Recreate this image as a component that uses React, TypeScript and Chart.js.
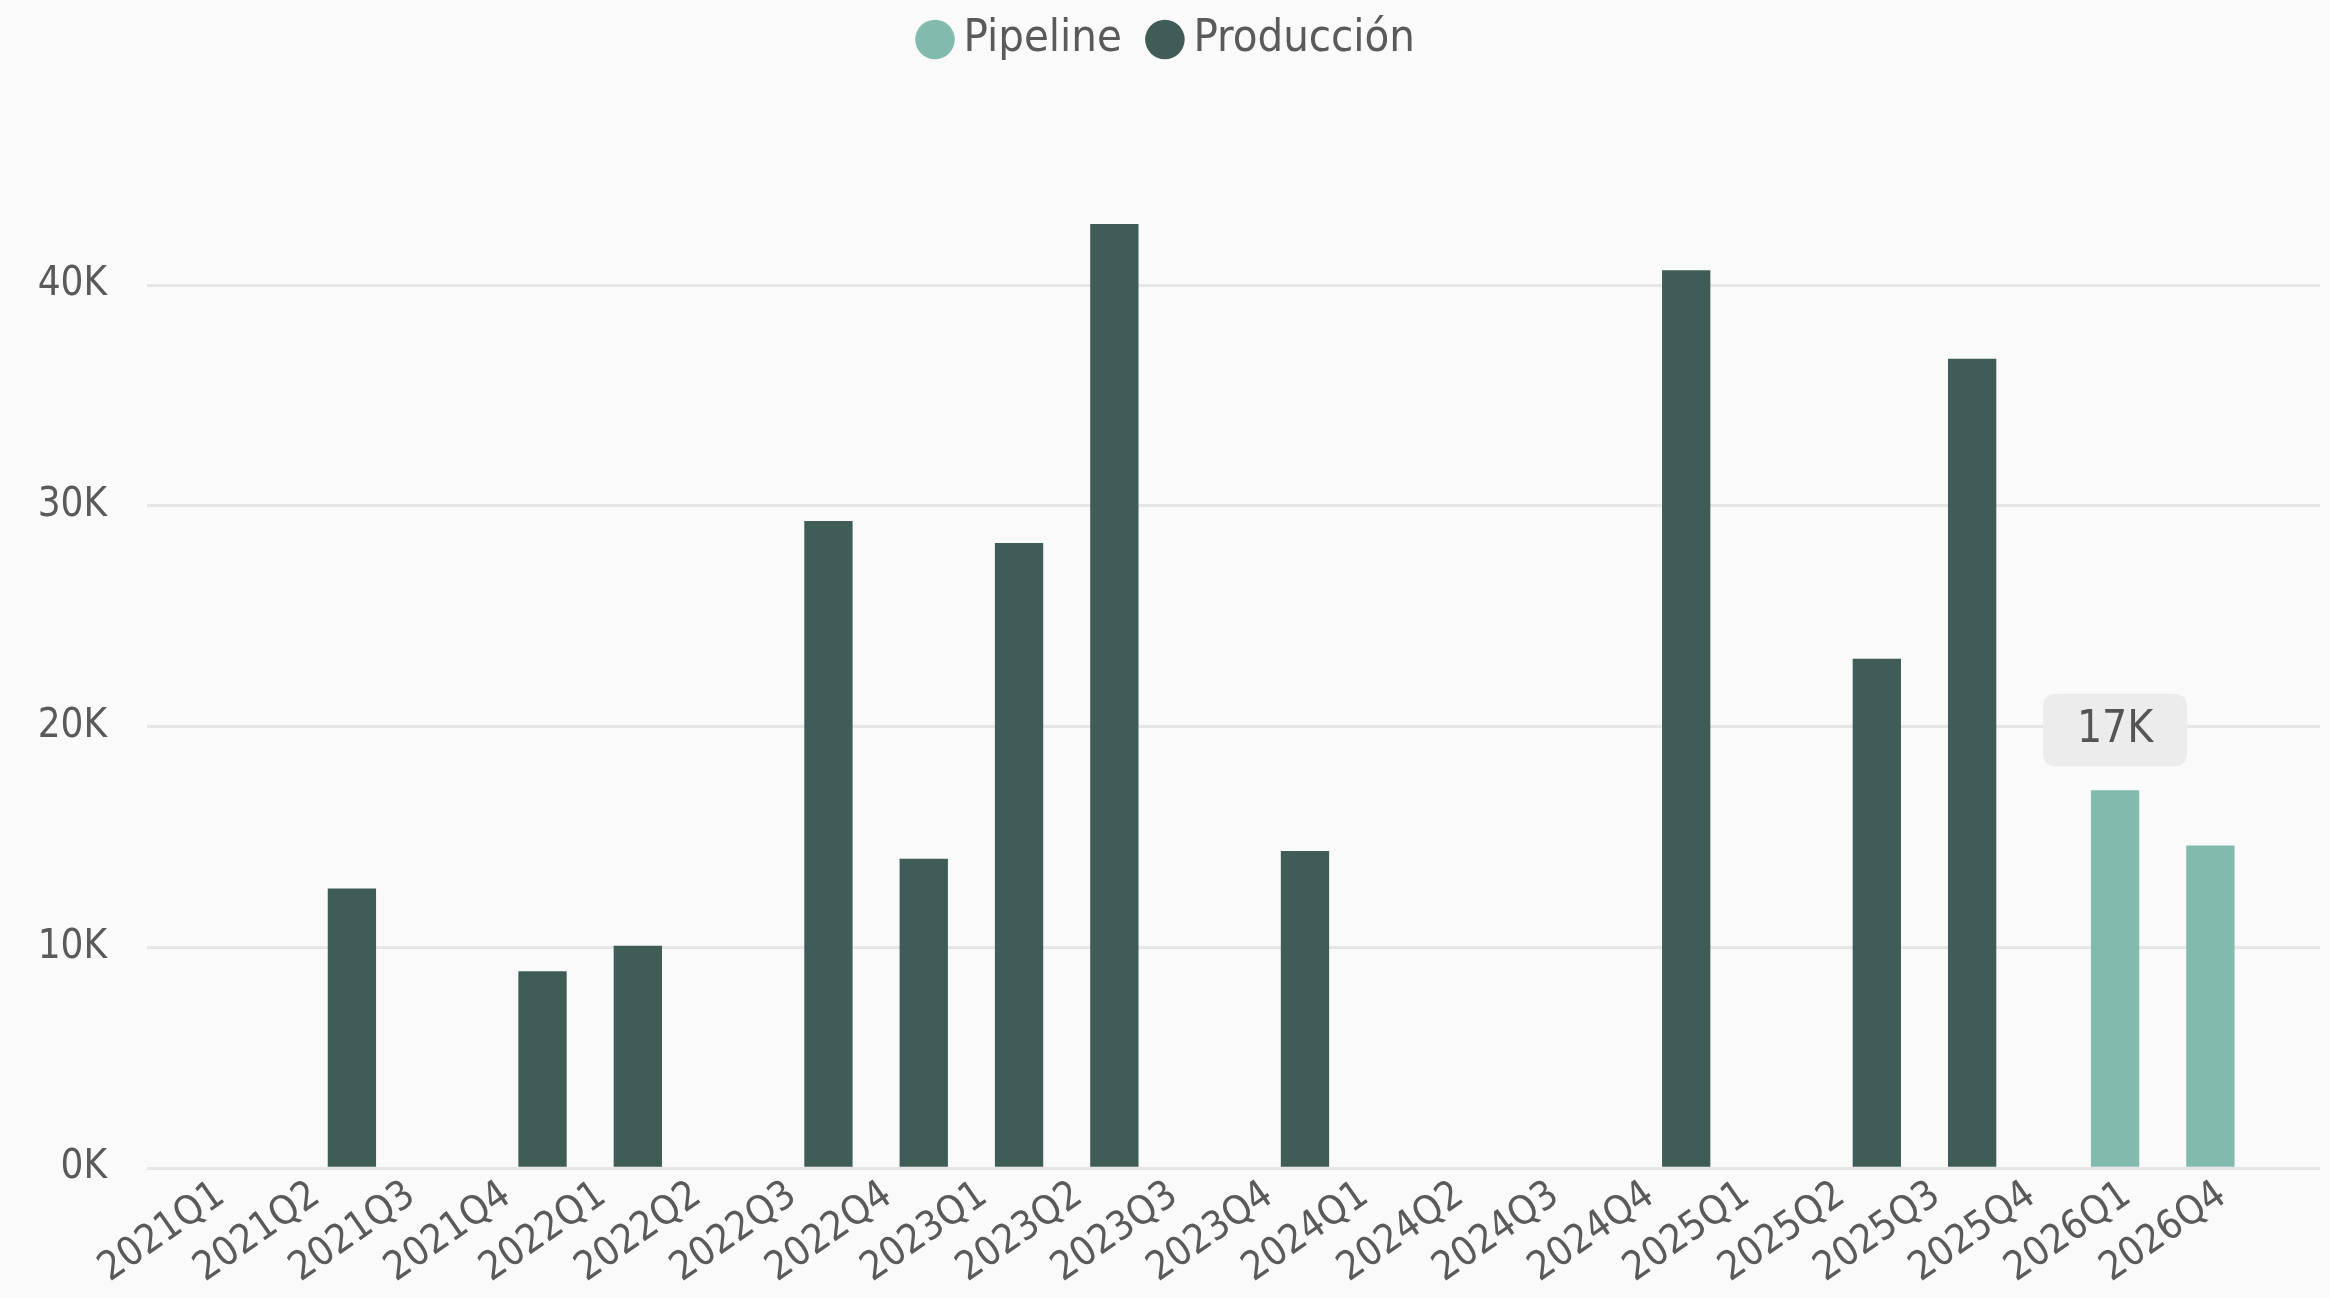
import { useEffect, useRef } from 'react';
import { Chart, registerables } from 'chart.js';

Chart.register(...registerables);

const labels = [
  '2021Q1', '2021Q2', '2021Q3', '2021Q4',
  '2022Q1', '2022Q2', '2022Q3', '2022Q4',
  '2023Q1', '2023Q2', '2023Q3', '2023Q4',
  '2024Q1', '2024Q2', '2024Q3', '2024Q4',
  '2025Q1', '2025Q2', '2025Q3', '2025Q4',
  '2026Q1', '2026Q4',
];

const pipelineValues: (number | null)[] = [
  null, null, null, null,
  null, null, null, null,
  null, null, null, null,
  null, null, null, null,
  null, null, null, null,
  17100, 14600,
];

const produccionValues: (number | null)[] = [
  null, 12650, null, 8900,
  10050, null, 29300, 14000,
  28300, 42750, null, 14350,
  null, null, null, 40650,
  null, 23050, 36650, null,
  null, null,
];

const yTickValues = [0, 10000, 20000, 30000, 40000];

const FONT = "'DejaVu Sans Condensed', 'DejaVu Sans', sans-serif";
const TEXT = '#5a5a5a';

export default function App() {
  const ref = useRef<HTMLCanvasElement>(null);

  useEffect(() => {
    document.body.style.background = '#fafafa';
    const canvas = ref.current;
    if (!canvas) return;
    const chart = new Chart(canvas, {
      type: 'bar',
      data: {
        datasets: [
          {
            label: 'Pipeline',
            data: labels.map((_, i) => ({ x: i, y: pipelineValues[i] })) as any,
            backgroundColor: '#82bbad',
            borderWidth: 0,
            categoryPercentage: 1,
            barPercentage: 1,
          },
          {
            label: 'Producción',
            data: labels.map((_, i) => ({ x: i, y: produccionValues[i] })) as any,
            backgroundColor: '#3f5c56',
            borderWidth: 0,
            categoryPercentage: 1,
            barPercentage: 1,
          },
        ],
      },
      options: {
        animation: false,
        responsive: true,
        maintainAspectRatio: false,
        layout: { padding: { top: -31, left: 16, right: 2, bottom: 0 } },
        plugins: {
          legend: {
            position: 'top',
            labels: {
              usePointStyle: true,
              pointStyle: 'circle',
              boxWidth: 12,
              boxHeight: 28,
              padding: 37,
              color: TEXT,
              font: { family: FONT, size: 45 },
            },
          },
          tooltip: {
            enabled: true,
            backgroundColor: '#ececec',
            bodyColor: '#555555',
            bodyFont: { family: FONT, size: 44 },
            padding: { top: 10, bottom: 10, left: 34, right: 34 },
            cornerRadius: 14,
            caretSize: 0,
            caretPadding: 24,
            displayColors: false,
            xAlign: 'center',
            yAlign: 'bottom',
            callbacks: {
              title: () => '',
              label: (ctx: any) => `${Math.round(ctx.parsed.y / 1000)}K`,
            },
          },
        },
        scales: {
          x: {
            type: 'linear',
            min: -0.9,
            max: 21.9,
            offset: false,
            afterBuildTicks: (axis: any) => {
              axis.ticks = labels.map((_, i) => ({ value: i }));
            },
            afterFit: (axis: any) => {
              axis.height = 122;
            },
            grid: { display: false, drawTicks: false },
            border: { display: false },
            ticks: {
              autoSkip: false,
              minRotation: 35,
              maxRotation: 35,
              padding: 4,
              labelOffset: -12,
              color: TEXT,
              font: { family: FONT, size: 40 },
              callback: (v: any) => labels[Number(v)] ?? '',
            },
          },
          y: {
            min: 0,
            max: 49650,
            afterBuildTicks: (axis: any) => {
              axis.ticks = yTickValues.map((v) => ({ value: v }));
            },
            afterFit: (axis: any) => {
              axis.width = 123;
            },
            grid: { color: '#e6e6e6', lineWidth: 3, drawTicks: false },
            border: { display: false },
            ticks: {
              padding: 40,
              color: TEXT,
              font: { family: FONT, size: 40 },
              callback: (v: any) => `${Number(v) / 1000}K`,
            },
          },
        },
      } as any,
    });

    chart.tooltip?.setActiveElements([{ datasetIndex: 0, index: 20 }], { x: 0, y: 0 });
    chart.update();

    return () => chart.destroy();
  }, []);

  return (
    <div style={{ position: 'relative', width: '2314px', height: '1282px' }}>
      <canvas ref={ref} />
    </div>
  );
}
